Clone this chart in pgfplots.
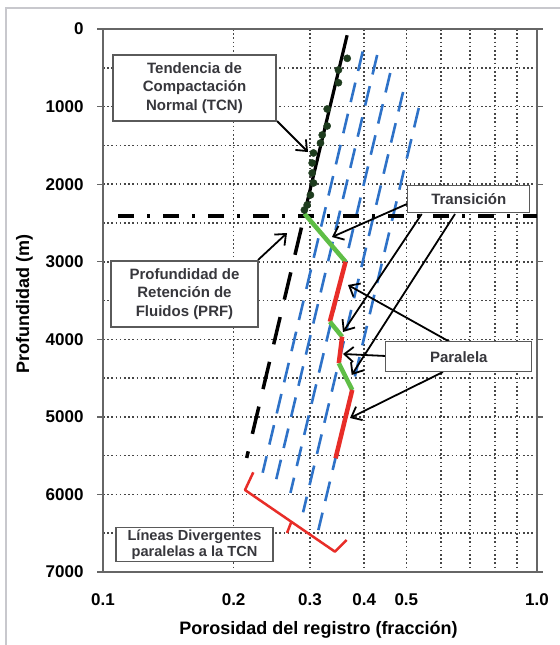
\documentclass[border=0pt]{standalone}
\usepackage{pgfplots}
\pgfplotsset{compat=1.18}
\usepackage{fontspec}
\setmainfont{Liberation Sans}
\usetikzlibrary{arrows.meta}
\definecolor{bl}{RGB}{46,114,200}
\definecolor{gr}{RGB}{95,190,70}
\definecolor{rd}{RGB}{232,45,40}
\definecolor{dg}{RGB}{30,60,30}
\definecolor{txt}{RGB}{55,55,60}
\definecolor{bx}{RGB}{90,90,90}
\definecolor{gridc}{RGB}{70,70,70}
\definecolor{framec}{RGB}{200,200,205}

\begin{document}
\begin{tikzpicture}
\useasboundingbox (0,0) rectangle (560bp,-645bp);
\fill[white] (0,0) rectangle (560bp,-645bp);
\draw[framec, line width=1.5bp] (6bp,-660bp) -- (6bp,-8bp) -- (580bp,-8bp);
\begin{axis}[
 at={(103bp,-572bp)}, anchor=south west, scale only axis, width=434bp, height=543bp,
 xmode=log, log basis x=10, xmin=0.1, xmax=1, ymin=0, ymax=7000, y dir=reverse,
 xtick={0.1,0.2,0.3,0.4,0.5,1}, xticklabels={0.1,0.2,0.3,0.4,0.5,1.0},
 minor xtick={0.6,0.7,0.8,0.9},
 ytick={0,1000,2000,3000,4000,5000,6000,7000},
 yticklabels={0,1000,2000,3000,4000,5000,6000,7000},
 minor ytick={500,1500,2500,3500,4500,5500,6500},
 grid=both,
 major grid style={gridc, line width=1.6bp, dash pattern=on 1.6bp off 2.6bp},
 minor grid style={gridc, line width=1.6bp, dash pattern=on 1.6bp off 2.6bp},
 axis line style={draw=black!60, line width=1.6bp},
 tick align=outside, major tick length=6bp, minor tick length=0pt,
 xtick style={draw=none}, ytick style={black!60, line width=1.3bp},
 ticklabel style={font=\bfseries\fontsize{17bp}{17bp}\selectfont},
 xticklabel style={yshift=-12bp},
 yticklabel style={xshift=-10bp},
 clip=true,
]
% blue divergent parallel lines
\addplot[bl, line width=2.6bp, dash pattern=on 20bp off 12bp] coordinates {(0.3968,290) (0.2333,5720)};
\addplot[bl, line width=2.6bp, dash pattern=on 20bp off 12bp] coordinates {(0.4283,335) (0.2506,5810)};
\addplot[bl, line width=2.6bp, dash pattern=on 20bp off 12bp] coordinates {(0.4590,567) (0.2703,5980)};
\addplot[bl, line width=2.6bp, dash pattern=on 20bp off 12bp] coordinates {(0.4914,812) (0.2891,6230)};
\addplot[bl, line width=2.6bp, dash pattern=on 20bp off 12bp] coordinates {(0.5341,1018) (0.3135,6460)};
% TCN solid and dashed extension
\addplot[black, line width=3.2bp] coordinates {(0.3652,80) (0.2911,2380)};
\addplot[black, line width=3.5bp, dash pattern=on 28bp off 18bp] coordinates {(0.2866,2560) (0.2143,5530)};
% data points
\addplot[only marks, mark=*, mark size=3.6bp, dg] coordinates {
(0.3654,378) (0.3488,528) (0.3488,692) (0.3285,1031) (0.3285,1250) (0.3200,1366)
(0.3171,1470) (0.3055,1598) (0.3034,1727) (0.3034,1856) (0.3055,1985) (0.3006,2140)
(0.2954,2269) (0.2911,2333)};
% PRF dash-dot line
\addplot[black, line width=4bp, dash pattern=on 16bp off 13bp on 3bp off 13bp] coordinates {(0.1083,2410) (1,2410)};
% transition (green) and parallel (red) segments
\addplot[gr, line width=4.5bp] coordinates {(0.2911,2380) (0.3622,3000)};
\addplot[rd, line width=4.5bp] coordinates {(0.3622,3000) (0.3332,3773)};
\addplot[gr, line width=4.5bp] coordinates {(0.3332,3773) (0.3557,3966)};
\addplot[rd, line width=4.5bp] coordinates {(0.3557,3966) (0.3494,4309)};
\addplot[gr, line width=4.5bp] coordinates {(0.3494,4309) (0.3753,4653)};
\addplot[rd, line width=4.5bp] coordinates {(0.3753,4653) (0.3435,5534)};
\end{axis}
\begin{scope}[x=1bp,y=-1bp,
  box/.style={draw=bx, fill=white, line width=1.3bp, align=center, inner sep=0pt,
    font=\bfseries\fontsize{15bp}{18.5bp}\selectfont, text=txt},
  arr/.style={black, line width=1.8bp, -{Straight Barb[length=9bp,width=15bp]}}]
% brace
\draw[rd, line width=2.5bp, line join=round] (253.3,472.3) -- (245,490) -- (335,551.7) -- (346.7,540);
\draw[rd, line width=2.5bp] (291.5,521.5) -- (287,533);
% arrows
\draw[arr] (277,121) -- (308,152);
\draw[arr] (258,260) -- (287,233);
\draw[arr] (407,204) -- (332,237);
\draw[arr] (421.7,214) -- (343,332);
\draw[arr] (455,214) -- (351.7,375);
\draw[arr] (450,342) -- (348,285);
\draw[arr] (386,356) -- (343,354);
\draw[arr] (443,372) -- (350,418);
% boxes
\node[box, minimum width=163bp, minimum height=66bp] at (194.5,88) {Tendencia de\\Compactación\\Normal (TCN)};
\node[box, minimum width=147bp, minimum height=66bp] at (184.5,294) {Profundidad de\\Retención de\\Fluidos (PRF)};
\node[box, minimum width=157bp, minimum height=34bp, font=\bfseries\fontsize{14.6bp}{15.5bp}\selectfont] at (194.5,544.5) {Líneas Divergentes\\paralelas a la TCN};
\node[box, minimum width=122bp, minimum height=27bp] at (468.8,199.3) {Transición};
\node[box, minimum width=146bp, minimum height=30bp] at (458.8,356.7) {Paralela};
% axis labels
\node[font=\bfseries\fontsize{18bp}{18bp}\selectfont] at (318.5,630) {Porosidad del registro (fracción)};
\node[font=\bfseries\fontsize{18bp}{18bp}\selectfont, rotate=90] at (24.5,304) {Profundidad (m)};
\end{scope}
\end{tikzpicture}
\end{document}
